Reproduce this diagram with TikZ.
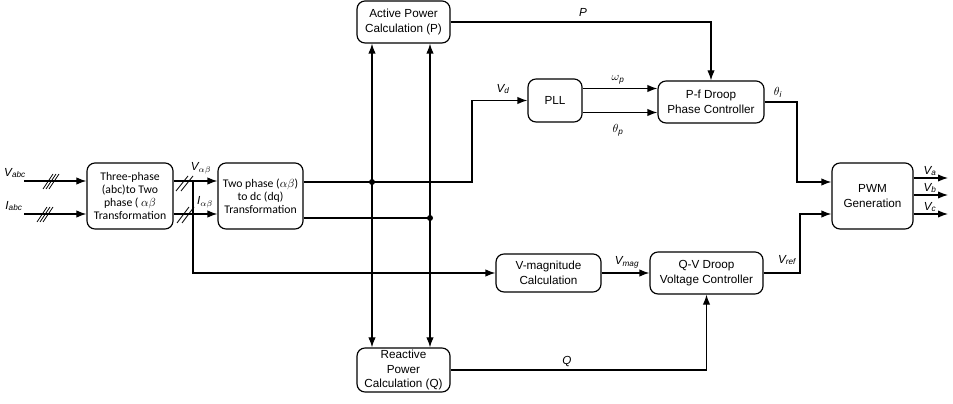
\documentclass[tikz,border=0pt]{standalone}
\usepackage{fontspec}
\setmainfont{Liberation Sans}
\newfontfamily\calibfont{Carlito}
\usetikzlibrary{arrows.meta}

\begin{document}
\begin{tikzpicture}[x=0.03cm, y=-0.03cm,
  block/.style={draw=black, line width=1pt, rounded corners=2.4mm, align=center,
    font=\fontsize{10}{12.5}\selectfont, inner sep=1pt},
  calibblock/.style={block, font=\calibfont\fontsize{10}{11.2}\selectfont},
  sig/.style={line width=1pt, -{Latex[length=3mm,width=2.2mm]}},
  wire/.style={line width=1pt},
  hatch/.style={line width=0.7pt},
  lbl/.style={font=\fontsize{10}{12}\selectfont\itshape, inner sep=0pt}]

\useasboundingbox (0,0) rectangle (953,404);

% blocks
\node[calibblock, minimum width=2.58cm, minimum height=1.98cm] (three_phase) at (130,196) {Three-phase\\(abc)to Two\\phase ( $\alpha\beta$\\Transformation};
\node[calibblock, minimum width=2.55cm, minimum height=1.98cm] (two_phase) at (260.5,196) {Two phase ($\alpha\beta$)\\to dc (dq)\\Transformation};
\node[block, minimum width=2.79cm, minimum height=1.26cm] (active_power) at (403.5,22) {Active Power\\Calculation (P)};
\node[block, minimum width=2.79cm, minimum height=1.32cm] (reactive_power) at (403.5,370) {Reactive\\Power\\Calculation (Q)};
\node[block, minimum width=1.62cm, minimum height=1.29cm] (pll) at (555,100.5) {PLL};
\node[block, minimum width=3.18cm, minimum height=1.26cm] (pf_droop) at (711,102) {P-f Droop\\Phase Controller};
\node[block, minimum width=3.15cm, minimum height=1.14cm] (v_mag) at (548.5,273) {V-magnitude\\Calculation};
\node[block, minimum width=3.39cm, minimum height=1.26cm] (qv_droop) at (706.5,273) {Q-V Droop\\Voltage Controller};
\node[block, minimum width=2.43cm, minimum height=1.98cm] (pwm) at (872.5,196) {PWM\\Generation};

% inputs
\coordinate (vabc_in) at (24,181);
\coordinate (iabc_in) at (24,214);
\draw[sig] (vabc_in) -- (vabc_in -| three_phase.west);
\draw[sig] (iabc_in) -- (iabc_in -| three_phase.west);
\node[lbl] (vabc_lbl) at (15,173) {V\textsubscript{abc}};
\node[lbl] (iabc_lbl) at (14,206) {I\textsubscript{abc}};
\foreach \c in {48,51,54} \draw[hatch] (\c-5,189) -- (\c+5,174);
\foreach \c in {42,45,48} \draw[hatch] (\c-5,222) -- (\c+5,207);

% alpha-beta signals
\draw[sig] (three_phase.east |- vabc_in) -- (two_phase.west |- vabc_in);
\draw[sig] (three_phase.east |- iabc_in) -- (two_phase.west |- iabc_in);
\node[lbl] (valbe_lbl) at (201,168) {V\textsubscript{$\alpha\beta$}};
\node[lbl] (ialbe_lbl) at (205,202) {I\textsubscript{$\alpha\beta$}};
\foreach \c in {182,187} \draw[hatch] (\c-6,191) -- (\c+6,176);
\foreach \c in {183,188} \draw[hatch] (\c-6,223) -- (\c+6,207);
\coordinate (vab_tap) at (193,181);
\draw[sig] (vab_tap) |- (v_mag.west);

% dq signals
\coordinate (dot_p) at (372,182);
\coordinate (dot_q) at (430,218);
\coordinate (vd_turn) at (472,182);
\draw[sig] (two_phase.east |- vd_turn) -- (vd_turn) |- (pll.west);
\draw[wire] (two_phase.east |- dot_q) -- (dot_q);
\node[lbl] (vd_lbl) at (503,89) {V\textsubscript{d}};
\foreach \d in {dot_p, dot_q} {
  \draw[sig] (\d) -- (\d |- active_power.south);
  \draw[sig] (\d) -- (\d |- reactive_power.north);
  \fill (\d) circle (3);
}

% power paths
\draw[sig] (active_power.east) -| (pf_droop.north);
\node[lbl] (p_lbl) at (583,12) {P};
\draw[sig] (reactive_power.east) -| (qv_droop.south);
\node[lbl] (q_lbl) at (567,362) {Q};

% pll outputs
\coordinate (wp_out) at ([yshift=3.6mm]pll.east);
\coordinate (tp_out) at ([yshift=-3.6mm]pll.east);
\draw[sig] (wp_out) -- (wp_out -| pf_droop.west);
\draw[sig] (tp_out) -- (tp_out -| pf_droop.west);
\node[lbl] (wp_lbl) at (618,80) {$\omega$\textsubscript{p}};
\node[lbl] (tp_lbl) at (618,130) {$\theta$\textsubscript{p}};

% voltage magnitude
\draw[sig] (v_mag.east) -- (qv_droop.west);
\node[lbl] (vmag_lbl) at (627,262) {V\textsubscript{mag}};

% controllers to pwm
\coordinate (theta_turn) at (797,182);
\coordinate (vref_turn) at (800,214);
\draw[sig] (pf_droop.east) -| (theta_turn) -- (theta_turn -| pwm.west);
\draw[sig] (qv_droop.east) -| (vref_turn) -- (vref_turn -| pwm.west);
\node[lbl] (ti_lbl) at (778,92) {$\theta$\textsubscript{i}};
\node[lbl] (vref_lbl) at (787,260) {V\textsubscript{ref}};

% outputs
\foreach \y/\ph in {178/a, 195/b, 214/c} {
  \coordinate (out_\ph) at (948,\y);
  \draw[sig] (pwm.east |- out_\ph) -- (out_\ph);
  \node[lbl] at (930,\y-7) {V\textsubscript{\ph}};
}

\end{tikzpicture}
\end{document}
